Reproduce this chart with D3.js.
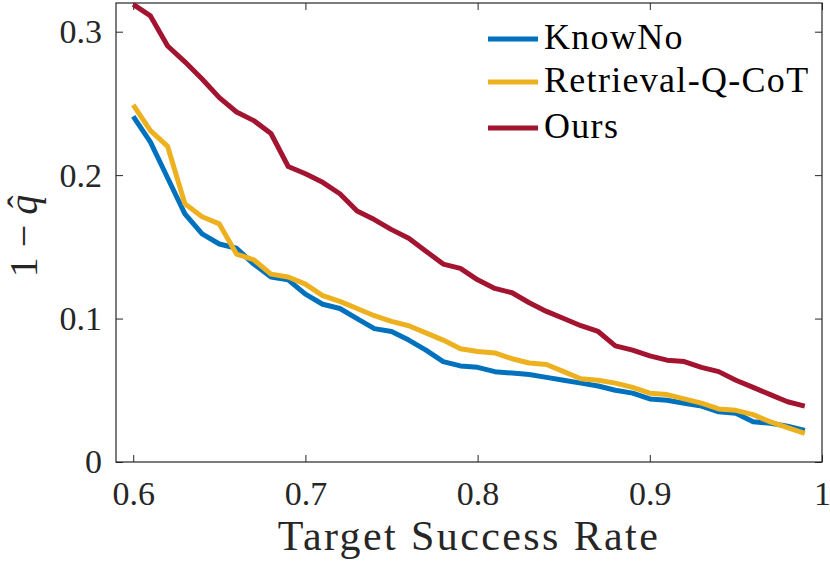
<!DOCTYPE html>
<html>
<head>
<meta charset="utf-8">
<script src="https://cdn.jsdelivr.net/npm/d3@7"></script>
<style>
  body { margin: 0; background: #fff; }
</style>
</head>
<body>
<script>
// target success rate (x) and 1 - q_hat for each method
const targets = [0.60, 0.61, 0.62, 0.63, 0.64, 0.65, 0.66, 0.67, 0.68, 0.69,
                 0.70, 0.71, 0.72, 0.73, 0.74, 0.75, 0.76, 0.77, 0.78, 0.79,
                 0.80, 0.81, 0.82, 0.83, 0.84, 0.85, 0.86, 0.87, 0.88, 0.89,
                 0.90, 0.91, 0.92, 0.93, 0.94, 0.95, 0.96, 0.97, 0.98, 0.99];

const knowNo = [0.241, 0.223, 0.198, 0.173, 0.159, 0.152, 0.149, 0.138, 0.129, 0.127,
                0.117, 0.110, 0.107, 0.100, 0.093, 0.091, 0.085, 0.078, 0.070, 0.067,
                0.066, 0.063, 0.062, 0.061, 0.059, 0.057, 0.055, 0.053, 0.050, 0.048,
                0.044, 0.043, 0.041, 0.039, 0.035, 0.034, 0.028, 0.027, 0.025, 0.022];

const retrievalQCoT = [0.249, 0.231, 0.220, 0.180, 0.171, 0.166, 0.145, 0.141, 0.131, 0.129,
                       0.124, 0.116, 0.112, 0.107, 0.102, 0.098, 0.095, 0.090, 0.085, 0.079,
                       0.077, 0.076, 0.072, 0.069, 0.068, 0.063, 0.058, 0.057, 0.055, 0.052,
                       0.048, 0.047, 0.044, 0.041, 0.037, 0.036, 0.033, 0.028, 0.024, 0.020];

const ours = [0.319, 0.311, 0.290, 0.279, 0.267, 0.254, 0.244, 0.238, 0.229, 0.206,
              0.201, 0.195, 0.187, 0.175, 0.169, 0.162, 0.156, 0.147, 0.138, 0.135,
              0.127, 0.121, 0.118, 0.111, 0.105, 0.100, 0.095, 0.091, 0.081, 0.078,
              0.074, 0.071, 0.070, 0.066, 0.063, 0.057, 0.052, 0.047, 0.042, 0.039];

const seriesNames = ["KnowNo", "Retrieval-Q-CoT", "Ours"];
const seriesValues = [knowNo, retrievalQCoT, ours];
const seriesColors = ["#0072BD", "#EDB120", "#A2142F"];

const xTicks = [0.6, 0.7, 0.8, 0.9, 1];
const xTickLabels = ["0.6", "0.7", "0.8", "0.9", "1"];
const yTicks = [0, 0.1, 0.2, 0.3];
const yTickLabels = ["0", "0.1", "0.2", "0.3"];

const width = 830, height = 571;
const plotLeft = 116, plotRight = 822, plotTop = 3, plotBottom = 462;
const axisColor = "#262626";
const serif = "'Liberation Serif', 'Times New Roman', serif";

let svg = d3.select("body").append("svg")
    .attr("width", width)
    .attr("height", height);

let x = d3.scaleLinear().domain([0.59, 1]).range([plotLeft, plotRight]);
let y = d3.scaleLinear().domain([0, 0.32]).range([plotBottom, plotTop]);

// inward ticks on all four sides (matlab "box on")
function styleAxis(g) {
    g.select(".domain").remove();
    g.selectAll(".tick line").attr("stroke", axisColor).attr("stroke-width", 1);
    g.selectAll("text")
        .attr("fill", axisColor)
        .style("font-family", serif)
        .style("font-size", "34px");
}

svg.append("g")
    .attr("transform", "translate(0," + plotBottom + ")")
    .call(d3.axisBottom(x).tickValues(xTicks).tickSize(-7).tickPadding(19)
        .tickFormat((d, i) => xTickLabels[i]))
    .call(styleAxis);

svg.append("g")
    .attr("transform", "translate(0," + plotTop + ")")
    .call(d3.axisTop(x).tickValues(xTicks).tickSize(-7).tickFormat(""))
    .call(styleAxis);

svg.append("g")
    .attr("transform", "translate(" + plotLeft + ",0)")
    .call(d3.axisLeft(y).tickValues(yTicks).tickSize(-7).tickPadding(14)
        .tickFormat((d, i) => yTickLabels[i]))
    .call(styleAxis);

svg.append("g")
    .attr("transform", "translate(" + plotRight + ",0)")
    .call(d3.axisRight(y).tickValues(yTicks).tickSize(-7).tickFormat(""))
    .call(styleAxis);

svg.append("rect")
    .attr("x", plotLeft).attr("y", plotTop)
    .attr("width", plotRight - plotLeft).attr("height", plotBottom - plotTop)
    .attr("fill", "none")
    .attr("stroke", axisColor)
    .attr("stroke-width", 1.2);

// the three curves
let line = d3.line()
    .x((d, i) => x(targets[i]))
    .y(d => y(d));

svg.selectAll(".curve").data(seriesValues).enter()
    .append("path")
    .attr("class", "curve")
    .attr("d", d => line(d))
    .attr("fill", "none")
    .attr("stroke", (d, i) => seriesColors[i])
    .attr("stroke-width", 5)
    .attr("stroke-linejoin", "round");

// legend
let legendY = [39, 82, 128];
let legend = svg.selectAll(".legendItem").data(seriesNames).enter()
    .append("g")
    .attr("class", "legendItem")
    .attr("transform", (d, i) => "translate(488," + legendY[i] + ")");

legend.append("line")
    .attr("x1", 0).attr("x2", 50)
    .attr("y1", 0).attr("y2", 0)
    .attr("stroke", (d, i) => seriesColors[i])
    .attr("stroke-width", 5);

legend.append("text")
    .attr("x", 56)
    .attr("y", 10)
    .attr("fill", "#000")
    .style("font-family", serif)
    .style("font-size", "36px")
    .style("letter-spacing", "1.3px")
    .text(d => d);

// axis labels
svg.append("text")
    .attr("x", (plotLeft + plotRight) / 2)
    .attr("y", 550)
    .attr("text-anchor", "middle")
    .attr("fill", axisColor)
    .style("font-family", serif)
    .style("font-size", "42px")
    .style("letter-spacing", "2.4px")
    .text("Target Success Rate");

let yLabel = svg.append("g")
    .attr("transform", "translate(37,236) rotate(-90)");

let yText = yLabel.append("text")
    .attr("text-anchor", "middle")
    .attr("fill", axisColor)
    .style("font-family", serif)
    .style("font-size", "40px");
yText.append("tspan").text("1 \u2212 ");
let qSpan = yText.append("tspan").style("font-style", "italic").text("q");

// the hat over q
let total = yText.node().getComputedTextLength();
let qLen = qSpan.node().getComputedTextLength();
yLabel.append("text")
    .attr("x", total / 2 - qLen / 2 + 3)
    .attr("y", -3)
    .attr("text-anchor", "middle")
    .attr("fill", axisColor)
    .style("font-family", serif)
    .style("font-size", "38px")
    .text("\u02C6");
</script>
</body>
</html>
